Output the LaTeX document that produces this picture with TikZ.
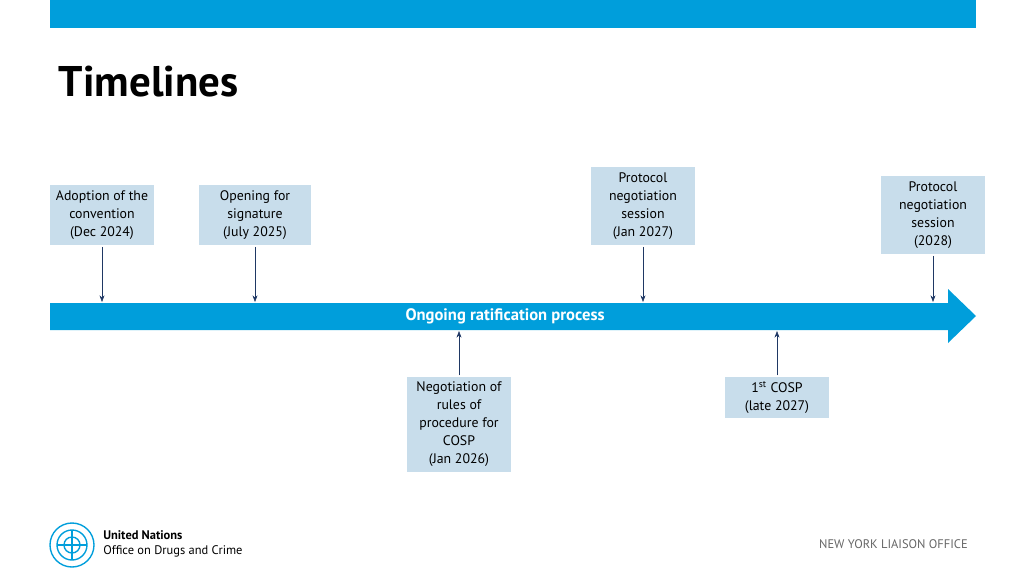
\documentclass[tikz,border=0pt]{standalone}
\usepackage{fontspec}
\setmainfont{PT Sans}
\usetikzlibrary{positioning}
\usetikzlibrary{arrows.meta}
\definecolor{unblue}{RGB}{0,158,219}
\definecolor{boxblue}{RGB}{200,221,235}
\definecolor{darkline}{RGB}{31,56,100}

\begin{document}
\begin{tikzpicture}[%
  x=0.0254cm, y=-0.0254cm,
  >={Stealth[scale=1.0]},
  event/.style={fill=boxblue, draw=white, line width=1pt, align=center,
    font=\fontsize{10}{13}\selectfont, inner sep=0pt},
  tick/.style={->, darkline, thin},
]
  \useasboundingbox (0,0) rectangle (1024,576);
  \fill[unblue] (50,0) rectangle (976,28);
  \node[anchor=west, font=\fontsize{31}{35}\selectfont\bfseries] (title) at (54,82) {Timelines};

  % main arrow
  \fill[unblue] (50,303) -- (948,303) -- (948,289) -- (976,316) -- (948,343)
    -- (948,330) -- (50,330) -- cycle;
  \node[white, font=\fontsize{12}{14}\selectfont\bfseries] (process) at (505,316)
    {Ongoing ratification process};

  % events above
  \node[event, minimum width=76pt, minimum height=45pt] (adopt) at (102,215)
    {Adoption of the\\convention\\(Dec 2024)};
  \node[event, minimum width=82pt, minimum height=45pt] (open) at (255,215)
    {Opening for\\signature\\(July 2025)};
  \node[event, minimum width=76pt, minimum height=58pt] (proto1) at (643,206)
    {Protocol\\negotiation\\session\\(Jan 2027)};
  \node[event, minimum width=76pt, minimum height=58pt] (proto2) at (933,215)
    {Protocol\\negotiation\\session\\(2028)};
  % events below
  \node[event, minimum width=76pt, minimum height=70pt] (rules) at (459,424.5)
    {Negotiation of\\rules of\\procedure for\\COSP\\(Jan 2026)};
  \node[event, minimum width=76pt, minimum height=31pt] (cosp) at (777,397.5)
    {1\textsuperscript{st} COSP\\(late 2027)};

  \coordinate (a1) at (102,302);
  \coordinate (a2) at (255,302);
  \coordinate (a3) at (643,302);
  \coordinate (a4) at (933,302);
  \coordinate (b1) at (459,331);
  \coordinate (b2) at (777,331);
  \draw[tick] (adopt) -- (a1);
  \draw[tick] (open) -- (a2);
  \draw[tick] (proto1) -- (a3);
  \draw[tick] (proto2) -- (a4);
  \draw[tick] (rules) -- (b1);
  \draw[tick] (cosp) -- (b2);

  % footer
  \begin{scope}[unblue, line width=1pt]
    \draw (72,545) circle (22);
    \draw (72,545) circle (15);
    \draw (72,545) circle (8);
    \draw (57,545) -- (87,545) (72,530) -- (72,560);
  \end{scope}
  \node[anchor=west, align=left, font=\fontsize{9}{10.5}\selectfont, inner sep=0pt]
    (unodc) at (103,544) {\textbf{United Nations}\\Office on Drugs and Crime};
  \node[anchor=east, gray!80!black, font=\fontsize{9}{10}\selectfont, inner sep=0pt]
    (nylo) at (968,544) {NEW YORK LIAISON OFFICE};
\end{tikzpicture}
\end{document}
